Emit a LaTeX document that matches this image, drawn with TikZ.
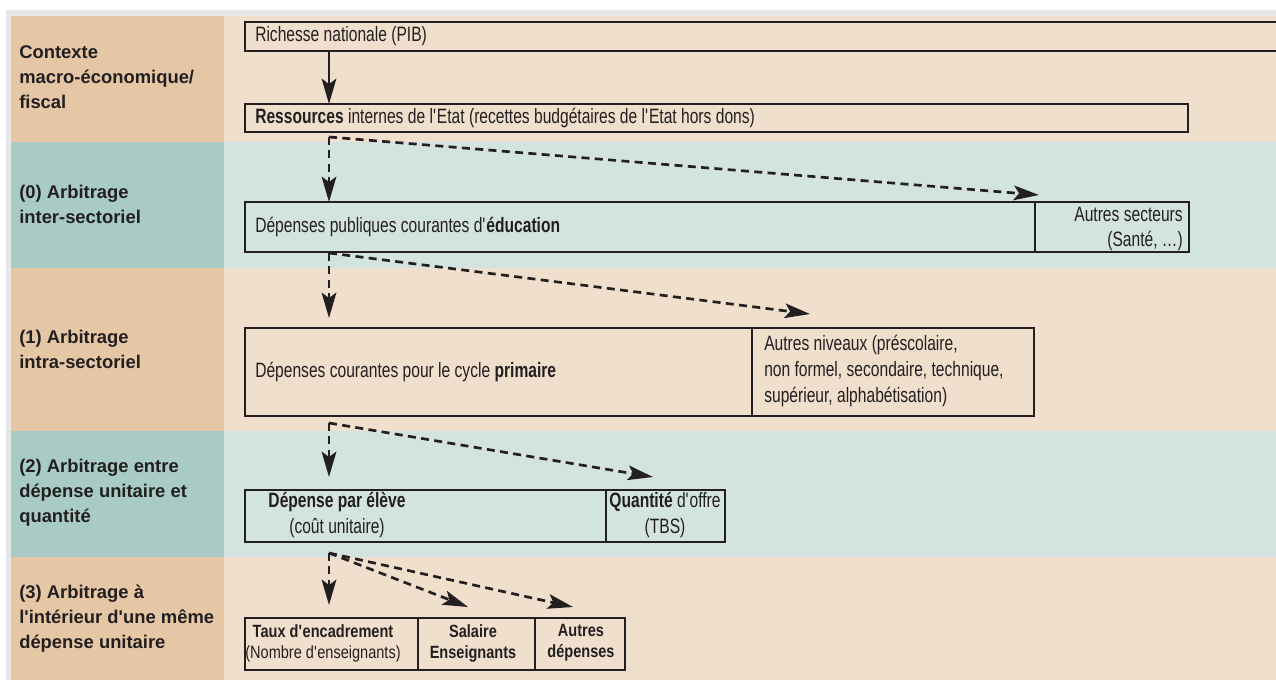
\documentclass[tikz,border=0pt]{standalone}
\usepackage{fontspec}
\setmainfont{Liberation Sans}
\newfontfamily\cond[FakeStretch=0.75]{Liberation Sans}
\newfontfamily\condsm[FakeStretch=0.82]{Liberation Sans}
\usetikzlibrary{arrows.meta}
\definecolor{lefttan}{HTML}{E5C7A6}
\definecolor{leftteal}{HTML}{A8CCC5}
\definecolor{righttan}{HTML}{F0DFCD}
\definecolor{rightteal}{HTML}{D3E3E0}
\definecolor{framegray}{HTML}{E6E7E9}
\definecolor{ink}{HTML}{231F20}
\newcommand\ap{\textquotesingle}
\newcommand\mybox[5]{\node[box, minimum width={(#4-#2)*0.75pt}, minimum height={(#5-#3)*0.75pt}] (#1) at (#2,#3) {};}
\tikzset{
  box/.style={rectangle, draw=ink, line width=1pt, inner sep=0pt, outer sep=0pt, anchor=north west},
  txt/.style={font=\cond\fontsize{15.6}{19.5}\selectfont, text=ink, inner sep=0pt},
  sm/.style={font=\condsm\fontsize{13.3}{15.75}\selectfont, text=ink, inner sep=0pt},
  lbl/.style={font=\bfseries\fontsize{13.8}{18.75}\selectfont, text=ink, inner sep=0pt, anchor=west, align=left},
  arr/.style={draw=ink, line width=1.5pt, -{Stealth[length=19pt,width=11pt,inset=4pt]}},
  darr/.style={arr, line width=2pt, dash pattern=on 6pt off 4pt},
}
\begin{document}
\begin{tikzpicture}[x=0.75pt,y=-0.75pt]
\useasboundingbox (0,0) rectangle (1276,680);
% frame and bands
\fill[framegray] (6,10) rectangle (1276,680);
\fill[lefttan] (11,16) rectangle (224,142);
\fill[righttan] (224,16) rectangle (1276,142);
\fill[leftteal] (11,142) rectangle (224,268);
\fill[rightteal] (224,142) rectangle (1276,268);
\fill[lefttan] (11,268) rectangle (224,431);
\fill[righttan] (224,268) rectangle (1276,431);
\fill[leftteal] (11,431) rectangle (224,557);
\fill[rightteal] (224,431) rectangle (1276,557);
\fill[lefttan] (11,557) rectangle (224,680);
\fill[righttan] (224,557) rectangle (1276,680);
% left labels
\node[lbl] (l0) at (19,77) {Contexte\\macro-économique/\\fiscal};
\node[lbl] (l1) at (19,204.5) {(0) Arbitrage\\inter-sectoriel};
\node[lbl] (l2) at (19,349) {(1) Arbitrage\\intra-sectoriel};
\node[lbl] (l3) at (19,493) {(2) Arbitrage entre\\dépense unitaire et\\quantité};
\node[lbl] (l4) at (19,619) {(3) Arbitrage à\\l\ap intérieur d\ap une même\\dépense unitaire};
% boxes
\mybox{pib}{245}{22}{1290}{51}
\mybox{res}{245}{104}{1188}{132}
\mybox{edu}{245}{202}{1035}{252}
\mybox{sect}{1035}{202}{1189}{252}
\mybox{prim}{245}{328}{752}{416}
\mybox{niv}{752}{328}{1034}{416}
\mybox{dep}{245}{490}{606}{542}
\mybox{qte}{606}{490}{725}{542}
\mybox{taux}{245}{618}{418}{670}
\mybox{sal}{418}{618}{535}{670}
\mybox{aut}{535}{618}{625}{670}
% texts
\node[txt, anchor=west] (tpib) at (255,36.5) {Richesse nationale (PIB)};
\node[txt, anchor=west] (tres) at (255,118) {\textbf{Ressources} internes de l\ap Etat (recettes budgétaires de l\ap Etat hors dons)};
\node[txt, anchor=west] (tedu) at (255,227) {Dépenses publiques courantes d\ap\textbf{éducation}};
\node[txt, anchor=east, align=right] (tsect) at (1183,229) {Autres secteurs\\(Santé, \ldots)};
\node[txt, anchor=west] (tprim) at (255,372) {Dépenses courantes pour le cycle \textbf{primaire}};
\node[txt, anchor=west, align=left] (tniv) at (764,371) {Autres niveaux (préscolaire,\\non formel, secondaire, technique,\\supérieur, alphabétisation)};
\node[txt, align=center] (tdep) at (337,515) {\textbf{Dépense par élève}\\(coût unitaire)};
\node[txt, align=center] (tqte) at (665,515) {\textbf{Quantité} d\ap offre\\(TBS)};
\node[sm, align=center] (ttaux) at (323,643) {\textbf{Taux d\ap encadrement}\\(Nombre d\ap enseignants)};
\node[sm, align=center] (tsal) at (473,643) {\textbf{Salaire}\\\textbf{Enseignants}};
\node[sm, align=center] (taut) at (581,643) {\textbf{Autres}\\\textbf{dépenses}};
% connector points
\coordinate (s1) at (329,137);
\coordinate (s2) at (329,253);
\coordinate (s3) at (329,423);
\coordinate (s4) at (329,553);
\coordinate (d1) at (1039,195);
\coordinate (d2) at (810,314);
\coordinate (d3) at (653,477);
\coordinate (d4a) at (468,607);
\coordinate (d4b) at (573,607);
\coordinate (v2) at (329,318);
\coordinate (v3) at (329,477);
\coordinate (v4) at (329,605);
% arrows
\draw[arr] (pib.south -| s1) -- (res.north -| s1);
\draw[darr] (s1) -- (s1 |- edu.north);
\draw[darr] (s1) -- (d1);
\draw[darr] (s2) -- (v2);
\draw[darr] (s2) -- (d2);
\draw[darr] (s3) -- (v3);
\draw[darr] (s3) -- (d3);
\draw[darr] (s4) -- (v4);
\draw[darr] (s4) -- (d4a);
\draw[darr] (s4) -- (d4b);
\end{tikzpicture}
\end{document}
